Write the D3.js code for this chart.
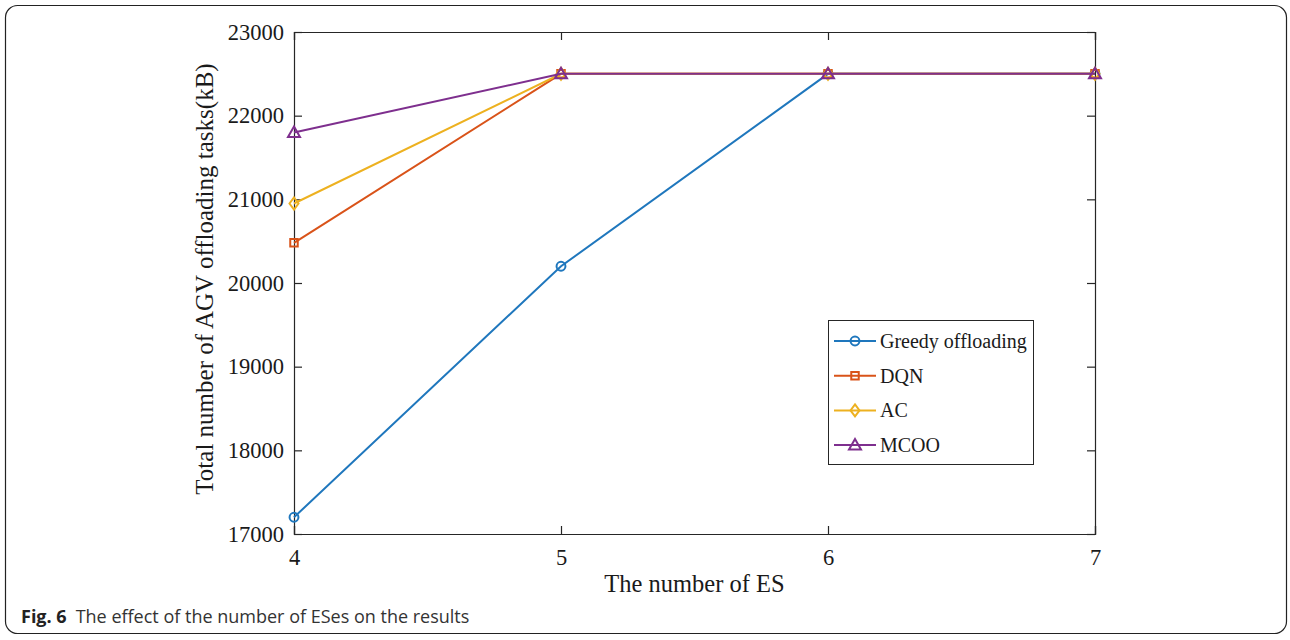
<!DOCTYPE html>
<html>
<head>
<meta charset="utf-8">
<script src="https://cdn.jsdelivr.net/npm/d3@7"></script>
<style>
  body { margin: 0; background: #fff; }
</style>
</head>
<body>
<div id="wrapper"></div>
<script>
// dados do gráfico
const esCounts = [4, 5, 6, 7];
const greedyValues = [17200, 20200, 22500, 22500];
const dqnValues = [20480, 22500, 22500, 22500];
const acValues = [20950, 22500, 22500, 22500];
const mcooValues = [21800, 22500, 22500, 22500];
const seriesNames = ["Greedy offloading", "DQN", "AC", "MCOO"];
const yTicks = [17000, 18000, 19000, 20000, 21000, 22000, 23000];

function draw() {
  const width = 1290, height = 640;
  const plot = { left: 294, right: 1095, top: 32, bottom: 534 };
  const serif = "'Liberation Serif', 'Times New Roman', serif";
  const axisColor = "#262626";

  const svg = d3.select("#wrapper").append("svg")
    .attr("width", width)
    .attr("height", height);

  // moldura externa arredondada
  svg.append("rect")
    .attr("x", 5.5).attr("y", 5.5)
    .attr("width", 1281).attr("height", 628)
    .attr("rx", 12)
    .attr("fill", "none")
    .attr("stroke", "#222")
    .attr("stroke-width", 1.2);

  const x = d3.scaleLinear().domain([4, 7]).range([plot.left, plot.right]);
  const y = d3.scaleLinear().domain([17000, 23000]).range([plot.bottom, plot.top]);

  const tickLen = 8;

  // eixos
  const xAxis = svg.append("g")
    .attr("transform", "translate(0," + plot.bottom + ")")
    .call(d3.axisBottom(x).tickValues(esCounts).tickSize(-tickLen).tickPadding(15).tickFormat(d3.format("d")));
  const xTop = svg.append("g")
    .attr("transform", "translate(0," + plot.top + ")")
    .call(d3.axisTop(x).tickValues(esCounts).tickSize(-tickLen).tickFormat(""));
  const yAxis = svg.append("g")
    .attr("transform", "translate(" + plot.left + ",0)")
    .call(d3.axisLeft(y).tickValues(yTicks).tickSize(-tickLen).tickPadding(10).tickFormat(d3.format("d")));
  const yRight = svg.append("g")
    .attr("transform", "translate(" + plot.right + ",0)")
    .call(d3.axisRight(y).tickValues(yTicks).tickSize(-tickLen).tickFormat(""));

  [xAxis, xTop, yAxis, yRight].forEach(g => {
    g.select(".domain").attr("stroke", axisColor).attr("stroke-width", 1.2);
    g.selectAll(".tick line").attr("stroke", axisColor).attr("stroke-width", 1.2);
    g.selectAll("text")
      .attr("font-family", serif)
      .attr("font-size", 22.5)
      .attr("fill", "#1a1a1a");
  });
  xAxis.selectAll("text").attr("dy", "0.71em");

  // rótulos dos eixos
  svg.append("text")
    .attr("x", (plot.left + plot.right) / 2)
    .attr("y", 592)
    .attr("text-anchor", "middle")
    .attr("font-family", serif)
    .attr("font-size", 24.5)
    .attr("fill", "#1a1a1a")
    .text("The number of ES");

  svg.append("text")
    .attr("transform", "translate(213," + ((plot.top + plot.bottom) / 2 - 4) + ") rotate(-90)")
    .attr("text-anchor", "middle")
    .attr("font-family", serif)
    .attr("font-size", 25)
    .attr("fill", "#1a1a1a")
    .text("Total number of AGV offloading tasks(kB)");

  const series = [
    { name: seriesNames[0], values: greedyValues, color: "#1f77bd", marker: "circle" },
    { name: seriesNames[1], values: dqnValues, color: "#D95319", marker: "square" },
    { name: seriesNames[2], values: acValues, color: "#EDB120", marker: "diamond" },
    { name: seriesNames[3], values: mcooValues, color: "#7E2F8E", marker: "triangle" }
  ];

  const symbolPath = (type) => {
    if (type === "circle") return d3.symbol(d3.symbolCircle, 62)();
    if (type === "square") return d3.symbol(d3.symbolSquare, 56)();
    if (type === "diamond") return "M0,-6L4.5,0L0,6L-4.5,0Z";
    return "M0,-6L6,4.5L-6,4.5Z";
  };

  const line = d3.line()
    .x((d, i) => x(esCounts[i]))
    .y(d => y(d));

  const lines = svg.append("g");
  series.forEach(s => {
    lines.append("path")
      .attr("d", line(s.values))
      .attr("fill", "none")
      .attr("stroke", s.color)
      .attr("stroke-width", 2);
    lines.selectAll(null)
      .data(s.values)
      .enter()
      .append("path")
      .attr("d", symbolPath(s.marker))
      .attr("transform", (d, i) => "translate(" + x(esCounts[i]) + "," + y(d) + ")")
      .attr("fill", "none")
      .attr("stroke", s.color)
      .attr("stroke-width", 2);
  });

  // legenda
  const legend = svg.append("g").attr("transform", "translate(828,320)");
  legend.append("rect")
    .attr("x", 0.5).attr("y", 0.5)
    .attr("width", 205).attr("height", 144)
    .attr("fill", "#fff")
    .attr("stroke", axisColor)
    .attr("stroke-width", 1);
  series.forEach((s, i) => {
    const ly = 21 + i * 34.7;
    legend.append("line")
      .attr("x1", 6).attr("x2", 48)
      .attr("y1", ly).attr("y2", ly)
      .attr("stroke", s.color)
      .attr("stroke-width", 2);
    legend.append("path")
      .attr("d", symbolPath(s.marker))
      .attr("transform", "translate(27," + ly + ")")
      .attr("fill", "none")
      .attr("stroke", s.color)
      .attr("stroke-width", 2);
    legend.append("text")
      .attr("x", 52)
      .attr("y", ly)
      .attr("dy", "0.35em")
      .attr("font-family", serif)
      .attr("font-size", 20)
      .attr("fill", "#1a1a1a")
      .text(s.name);
  });

  // legenda da figura
  const caption = svg.append("text")
    .attr("x", 21)
    .attr("y", 623)
    .attr("font-family", "'Open Sans', 'Noto Sans', sans-serif")
    .attr("font-size", 18)
    .attr("fill", "#333");
  caption.append("tspan").attr("font-weight", "bold").attr("fill", "#222").text("Fig. 6");
  caption.append("tspan").attr("dx", 9).text("The effect of the number of ESes on the results");
}
draw();
</script>
</body>
</html>
